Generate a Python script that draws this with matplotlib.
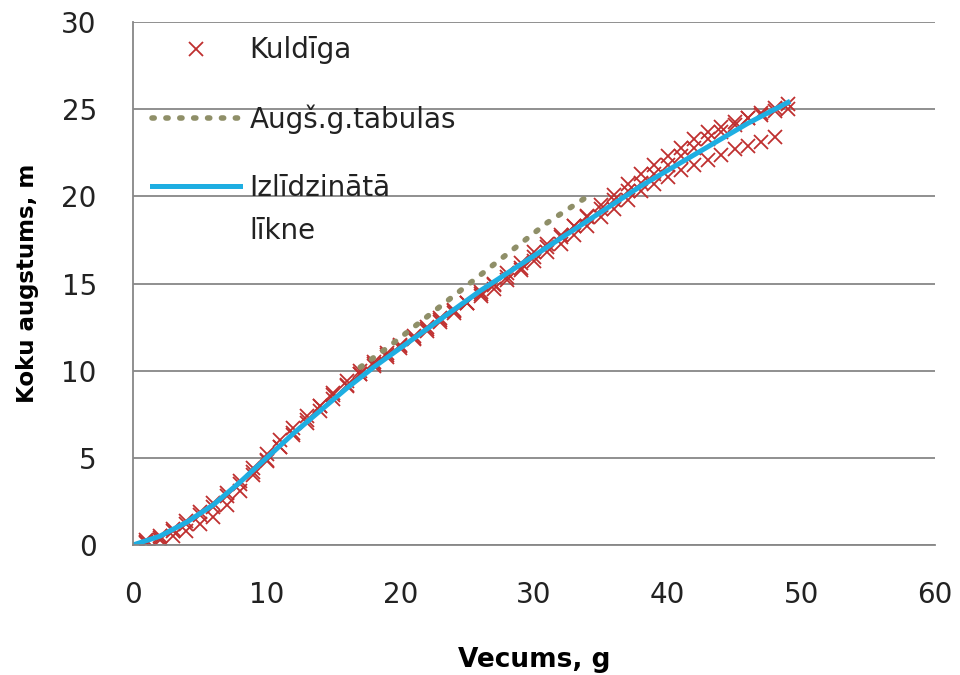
import numpy as np
import matplotlib.pyplot as plt

plt.rcParams['font.family'] = ['DejaVu Sans']

# Kuldiga measurements (three trees), age -> height
age1 = list(range(1, 50))
h1 = [0.2, 0.4, 0.8, 1.2, 1.7, 2.2, 2.8, 3.5, 4.2, 4.9, 5.6, 6.3, 7.0, 7.7, 8.4,
      9.1, 9.8, 10.4, 10.9, 11.4, 11.9, 12.4, 12.9, 13.4, 13.9, 14.4, 14.9, 15.4,
      15.9, 16.5, 17.1, 17.7, 18.3, 18.9, 19.5, 20.1, 20.7, 21.3, 21.8, 22.3,
      22.8, 23.3, 23.7, 24.0, 24.3, 24.5, 24.7, 24.9, 25.0]
age2 = list(range(1, 49))
h2 = [0.1, 0.3, 0.5, 0.8, 1.2, 1.6, 2.3, 3.1, 4.0, 4.8, 5.6, 6.4, 7.2, 8.0, 8.7,
      9.4, 10.0, 10.5, 11.0, 11.5, 12.0, 12.5, 13.0, 13.5, 13.9, 14.3, 14.7,
      15.2, 15.8, 16.3, 16.8, 17.3, 17.8, 18.3, 18.8, 19.3, 19.8, 20.3, 20.7,
      21.1, 21.5, 21.8, 22.1, 22.4, 22.7, 22.9, 23.1, 23.4]
age3 = list(range(1, 50))
h3 = [0.3, 0.5, 0.9, 1.4, 1.9, 2.4, 3.0, 3.7, 4.4, 5.2, 6.0, 6.7, 7.4, 8.0, 8.6,
      9.2, 9.8, 10.3, 10.8, 11.3, 11.8, 12.3, 12.8, 13.3, 13.9, 14.5, 15.0,
      15.6, 16.2, 16.8, 17.3, 17.8, 18.3, 18.8, 19.3, 19.8, 20.3, 20.8, 21.3,
      21.8, 22.3, 22.8, 23.3, 23.7, 24.1, 24.5, 24.8, 25.1, 25.3]

# yield table heights
tab_age = [17, 19, 21, 23, 25, 27, 29, 31, 33, 34]
tab_h = [10.2, 11.3, 12.5, 13.7, 14.9, 16.1, 17.3, 18.5, 19.5, 20.0]

# smoothed curve
fit_age = [0, 2, 4, 6, 8, 10, 12, 14, 16, 18, 20, 22, 24, 26, 28, 30, 32, 34,
           36, 38, 40, 42, 44, 46, 48, 49]
fit_h = [0, 0.5, 1.3, 2.3, 3.6, 5.0, 6.4, 7.7, 9.0, 10.2, 11.3, 12.4, 13.5,
         14.6, 15.6, 16.6, 17.6, 18.6, 19.6, 20.6, 21.5, 22.4, 23.3, 24.2,
         25.0, 25.4]

fig = plt.figure(figsize=(9.6, 6.75), dpi=100)
ax = fig.add_axes([0.1385, 0.1926, 0.8355, 0.7745])

red = '#bf2f2f'
ax.plot(age1, h1, 'x', color=red, ms=10, mew=1.3, label='Kuldīga')
ax.plot(age2, h2, 'x', color=red, ms=10, mew=1.3)
ax.plot(age3, h3, 'x', color=red, ms=10, mew=1.3)
ax.plot(tab_age, tab_h, color='#8f8f68', lw=4, dashes=(0.4, 2.1),
        dash_capstyle='round', label='Augš.g.tabulas')
ax.plot(fit_age, fit_h, '-', color='#1eaee2', lw=3.6, label='Izlīdzinātā')

ax.set_xlim(0, 60)
ax.set_ylim(0, 30)
ax.set_xticks(range(0, 61, 10))
ax.set_yticks(range(0, 31, 5))
ax.tick_params(length=0, labelsize=20, colors='#222222')
ax.tick_params(axis='x', pad=26)
ax.tick_params(axis='y', pad=26)
ax.yaxis.grid(True, color='#878787', lw=1.3)
ax.set_axisbelow(True)
for s in ['top', 'right']:
    ax.spines[s].set_visible(False)
for s in ['left', 'bottom']:
    ax.spines[s].set_color('#878787')
    ax.spines[s].set_linewidth(1.3)

ax.set_xlabel('Vecums, g', fontsize=19, fontweight='bold', labelpad=27)
ax.set_ylabel('Koku augstums, m', fontsize=16.5, fontweight='bold', labelpad=16)

leg = ax.legend(loc='upper left', bbox_to_anchor=(0.0237, 0.973), frameon=False,
                fontsize=20, handlelength=3.17, labelspacing=1.44,
                handletextpad=0.35, borderpad=0, borderaxespad=0)
for t in leg.get_texts():
    t.set_color('#222222')

# second line of the third legend label, aligned under the first line
fig.canvas.draw()
bb = leg.get_texts()[2].get_window_extent()
W, H = fig.bbox.width, fig.bbox.height
fig.text(bb.x0 / W, ((bb.y0 + bb.y1) / 2 - 43) / H, 'līkne', fontsize=20,
         color='#222222', ha='left', va='center')

fig.savefig('out.png', dpi=100, facecolor='white')
